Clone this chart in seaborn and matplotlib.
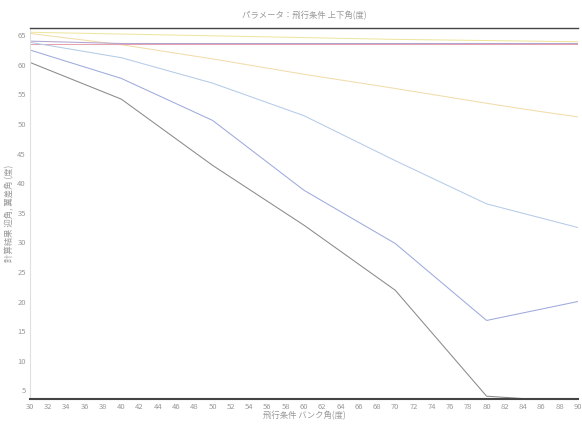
import matplotlib
matplotlib.use("Agg")
import matplotlib.pyplot as plt
import seaborn as sns
import pandas as pd

bank = [30, 40, 50, 60, 70, 80, 85, 90]

s_yellow_top = [65.5, 65.2, 64.9, 64.6, 64.3, 64.1, 64.0, 63.9]
s_orange = [65.3, 63.4, 61.0, 58.4, 56.0, 53.5, 52.3, 51.2]
s_pink = [63.6, 63.6, 63.6, 63.6, 63.6, 63.6, 63.6, 63.6]
s_purple = [64.0, 63.6, 63.6, 63.6, 63.6, 63.6, 63.6, 63.6]
s_lightblue = [63.8, 61.2, 56.9, 51.4, 43.8, 36.5, 34.5, 32.5]
s_blue = [62.5, 57.7, 50.6, 38.8, 29.8, 16.8, 18.4, 20.0]
s_dark = [60.4, 54.2, 43.0, 32.9, 21.9, 4.0, 3.5, 3.3]

names = ["a", "b", "c", "d", "e", "f", "g"]
series = [s_yellow_top, s_orange, s_pink, s_purple, s_lightblue, s_blue, s_dark]
colors = ["#eee6a0", "#f2dcaa", "#e8a2b0", "#b0a4d0", "#b4cbe8", "#9eaadc", "#8a8a8a"]

rows = []
for n, s in zip(names, series):
    for x, y in zip(bank, s):
        rows.append({"bank": x, "val": y, "series": n})
df = pd.DataFrame(rows)

sns.set_style("white")
plt.rcParams['font.family'] = ['Noto Sans CJK JP', 'DejaVu Sans']

fig = plt.figure(figsize=(5.82, 4.26), dpi=100)
ax = fig.add_axes([0.0515, 0.063, 0.9415, 0.871])

sns.lineplot(data=df, x="bank", y="val", hue="series", palette=dict(zip(names, colors)),
             linewidth=0.75, legend=False, ax=ax)

ax.set_xlim(30, 90)
ax.set_ylim(3.5, 66.2)
ax.set_xticks(range(30, 91, 2))
ax.set_yticks(range(5, 66, 5))
ax.tick_params(axis='both', labelsize=5.5, colors="#999999", length=0, pad=3)

ax.spines['top'].set_color("#444444")
ax.spines['top'].set_linewidth(1.0)
ax.spines['bottom'].set_color("#444444")
ax.spines['bottom'].set_linewidth(1.5)
ax.spines['left'].set_color("#e0e0e0")
ax.spines['left'].set_linewidth(0.8)
ax.spines['right'].set_visible(False)

ax.set_title("パラメータ：飛行条件 上下角(度)", fontsize=6, color="#999999", pad=7)
ax.set_xlabel("飛行条件 バンク角(度)", fontsize=6, color="#999999", labelpad=0)
ax.set_ylabel("計算結果 迎角, 翼差角 (度)", fontsize=6, color="#999999", labelpad=2)

fig.savefig("out.png", dpi=100)
